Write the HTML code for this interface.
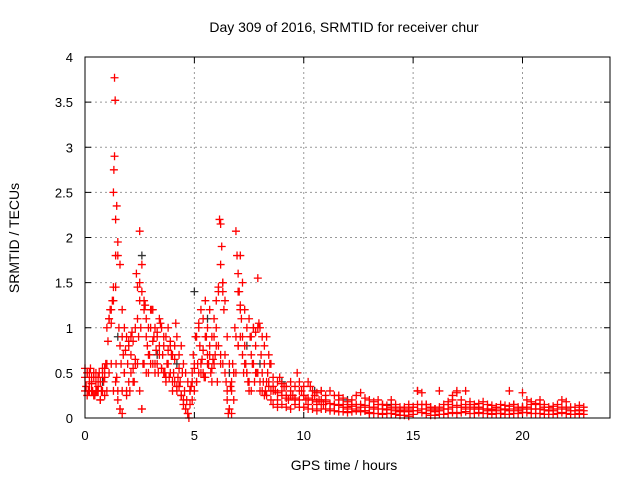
<!DOCTYPE html>
<html><head><meta charset="utf-8"><style>
body{margin:0;background:#fff;}
svg{display:block;font-family:"Liberation Sans",sans-serif;}
</style></head><body>
<svg id="chart" width="640" height="480" xmlns="http://www.w3.org/2000/svg">
<rect width="640" height="480" fill="#fff"/>
<text x="344" y="32" font-size="14" text-anchor="middle">Day 309 of 2016, SRMTID for receiver chur</text>
<text x="344" y="470" font-size="14" text-anchor="middle">GPS time / hours</text>
<text transform="translate(19,238) rotate(-90)" font-size="14" text-anchor="middle">SRMTID / TECUs</text>
<g id="grid"></g>
<g id="axes"></g>
<g id="marks-black"></g>
<g id="marks-red"></g>
<rect x="85" y="57" width="525" height="361" fill="none" stroke="#000" stroke-width="1"/>
</svg>
<script>
const xTicks=[0,5,10,15,20];
const yTicks=[0,0.5,1,1.5,2,2.5,3,3.5,4];
const yTickLabels=["0","0.5","1","1.5","2","2.5","3","3.5","4"];
const redX=[0,0.05,0.1,0.15,0.2,0.25,0.3,0.35,0.4,0.45,0.5,0.55,0.6,0.65,0.7,0.75,0.8,0.85,0.9,0.95,1.0,1.05,1.1,1.15,1.2,1.25,1.3,1.3,1.32,1.35,1.35,1.38,1.4,1.4,1.42,1.45,1.45,1.5,1.5,1.55,1.6,1.6,1.65,1.7,1.7,1.75,1.8,1.85,1.9,1.95,2.0,2.05,2.1,2.15,2.2,2.25,2.3,2.35,2.4,2.45,2.5,2.5,2.55,2.6,2.6,2.65,2.7,2.75,2.8,2.85,2.9,2.95,3.0,3.05,3.1,3.15,3.2,3.25,3.3,3.35,3.4,3.45,3.5,3.55,3.6,3.65,3.7,3.75,3.8,3.85,3.9,3.95,4.0,4.05,4.1,4.15,4.2,4.25,4.3,4.35,4.4,4.45,4.5,4.55,4.6,4.65,4.7,4.75,4.8,4.85,4.9,4.95,5.0,5.05,5.1,5.15,5.2,5.25,5.3,5.35,5.4,5.45,5.5,5.55,5.6,5.65,5.7,5.75,5.8,5.85,5.9,5.95,6.0,6.05,6.1,6.15,6.2,6.2,6.25,6.3,6.3,6.35,6.4,6.45,6.5,6.55,6.6,6.65,6.7,6.75,6.8,6.85,6.9,6.95,7.0,7.0,7.05,7.1,7.1,7.15,7.2,7.25,7.3,7.35,7.4,7.45,7.5,7.55,7.6,7.65,7.7,7.75,7.8,7.85,7.9,7.95,8.0,8.05,8.1,8.15,8.2,8.25,8.3,8.35,8.4,8.45,8.5,8.6,8.7,8.8,8.9,9.0,9.1,9.2,9.3,9.4,9.5,9.6,9.7,9.8,9.9,10.0,10.1,10.2,10.3,10.4,10.5,10.6,10.7,10.8,10.9,11.0,11.2,11.4,11.6,11.8,12.0,12.2,12.4,12.6,12.8,13.0,13.2,13.4,13.6,13.8,14.0,14.2,14.4,14.6,14.8,15.0,15.2,15.4,15.6,15.8,16.0,16.2,16.4,16.6,16.8,17.0,17.2,17.4,17.6,17.8,18.0,18.2,18.4,18.6,18.8,19.0,19.2,19.4,19.6,19.8,20.0,20.2,20.4,20.6,20.8,21.0,21.2,21.4,21.6,21.8,22.0,22.2,22.4,22.6,22.8];
const redY=[0.45,0.35,0.5,0.3,0.4,0.55,0.38,0.3,0.45,0.25,0.4,0.3,0.35,0.5,0.2,0.3,0.55,0.4,0.45,0.6,1.0,0.85,1.1,1.2,1.05,1.3,2.5,1.45,2.75,3.77,2.9,3.52,2.2,1.8,0.6,2.35,0.45,1.95,0.3,1.0,0.1,0.8,0.6,0.05,0.9,0.7,0.5,0.75,0.25,0.6,0.85,0.3,0.7,0.95,0.55,0.4,0.65,1.6,1.45,0.9,2.07,1.3,1.0,1.7,0.1,0.6,1.3,1.25,0.9,0.8,0.5,0.7,1.0,1.2,0.85,0.9,0.6,0.75,0.95,0.5,0.8,1.05,0.55,0.7,0.9,0.5,0.4,0.6,0.75,0.45,0.85,0.7,0.3,0.5,0.65,1.05,0.35,0.45,0.55,0.4,0.25,0.5,0.15,0.3,0.1,0.2,0.05,0.0,0.3,0.35,0.5,0.7,0.55,0.9,0.4,0.6,1.05,0.8,0.5,0.65,0.75,0.45,1.3,0.9,0.7,0.6,0.8,0.5,0.4,0.65,0.9,0.7,1.0,0.4,1.45,2.2,0.6,2.15,1.9,1.5,1.4,1.2,0.7,0.4,0.2,0.05,0.1,0.35,0.3,0.6,0.5,1.0,2.07,1.8,0.8,1.6,1.4,1.25,1.2,1.1,0.9,0.5,0.8,0.6,0.5,0.4,0.3,0.9,0.7,0.6,1.0,0.4,0.8,0.5,1.55,1.05,0.3,0.7,0.5,0.4,0.6,0.3,0.25,0.5,0.4,0.6,0.2,0.35,0.3,0.2,0.45,0.3,0.35,0.25,0.2,0.3,0.25,0.2,0.5,0.4,0.3,0.25,0.2,0.15,0.35,0.2,0.25,0.15,0.2,0.3,0.15,0.2,0.1,0.15,0.25,0.12,0.1,0.15,0.1,0.12,0.08,0.05,0.1,0.2,0.15,0.1,0.05,0.08,0.07,0.1,0.15,0.12,0.3,0.1,0.15,0.12,0.1,0.3,0.1,0.15,0.2,0.3,0.12,0.1,0.15,0.1,0.12,0.1,0.08,0.1,0.12,0.05,0.1,0.3,0.15,0.1,0.12,0.1,0.15,0.1,0.2,0.12,0.08,0.1];
const earlyT=[0.0,0.1,0.2,0.3,0.4,0.5,0.6,0.7,0.8,0.9,1.0,1.1,1.2,1.3,1.4,1.5,1.6,1.7,1.8,1.9,2.0,2.1,2.2,2.3,2.4,2.5,2.6,2.7,2.8,2.9,3.0,3.1,3.2,3.3,3.4,3.5,3.6,3.7,3.8,3.9,4.0,4.1,4.2,4.3,4.4,4.5,4.6,4.7,4.8,4.9,5.0,5.1,5.2,5.3,5.4,5.5,5.6,5.7,5.8,5.9,6.0,6.1,6.2,6.3,6.4,6.5,6.6,6.7,6.8,6.9,7.0,7.1,7.2,7.3,7.4,7.5,7.6,7.7,7.8,7.9,8.0,8.1,8.2,8.3,8.4,8.5];
const earlyHi=[0.55,0.5,0.5,0.45,0.5,0.5,0.45,0.4,0.5,0.55,0.6,1.1,1.2,1.3,1.45,1.8,1.7,1.2,1.0,0.9,0.8,0.9,0.85,1.0,1.1,1.5,1.4,1.2,1.1,1.0,1.2,1.2,1.0,0.9,1.1,1.0,0.8,0.9,1.0,0.8,0.7,0.8,0.9,0.7,0.8,0.6,0.5,0.4,0.3,0.4,0.6,0.9,1.0,1.2,1.1,0.9,1.0,1.2,0.9,1.1,1.3,1.4,1.7,1.5,1.3,0.9,0.6,0.4,0.5,0.9,1.4,1.8,1.5,1.2,1.0,1.1,0.9,1.0,0.95,1.0,1.0,0.9,0.8,0.9,0.7,0.6];
const earlyLo=[0.3,0.25,0.3,0.3,0.25,0.3,0.3,0.2,0.3,0.25,0.3,0.5,0.6,0.3,0.4,0.2,0.1,0.3,0.5,0.3,0.4,0.5,0.4,0.6,0.6,0.3,0.1,0.6,0.5,0.7,0.6,0.6,0.5,0.6,0.7,0.55,0.5,0.45,0.6,0.5,0.4,0.4,0.3,0.35,0.25,0.2,0.1,0.05,0.15,0.2,0.3,0.4,0.5,0.6,0.5,0.45,0.6,0.7,0.55,0.6,0.8,0.8,0.7,0.6,0.5,0.3,0.1,0.05,0.2,0.5,0.8,0.9,0.7,0.6,0.5,0.4,0.3,0.6,0.5,0.5,0.4,0.3,0.25,0.4,0.35,0.3];
const bandT=[8.6,8.8,9.0,9.2,9.4,9.6,9.8,10.0,10.2,10.4,10.6,10.8,11.0,11.2,11.4,11.6,11.8,12.0,12.2,12.4,12.6,12.8,13.0,13.2,13.4,13.6,13.8,14.0,14.2,14.4,14.6,14.8,15.0,15.2,15.4,15.6,15.8,16.0,16.2,16.4,16.6,16.8,17.0,17.2,17.4,17.6,17.8,18.0,18.2,18.4,18.6,18.8,19.0,19.2,19.4,19.6,19.8,20.0,20.2,20.4,20.6,20.8,21.0,21.2,21.4,21.6,21.8,22.0,22.2,22.4,22.6,22.8];
const bandHi=[0.45,0.4,0.38,0.35,0.4,0.35,0.3,0.35,0.4,0.3,0.28,0.3,0.25,0.3,0.25,0.2,0.22,0.18,0.2,0.25,0.28,0.22,0.2,0.18,0.15,0.15,0.14,0.2,0.15,0.12,0.12,0.1,0.12,0.3,0.28,0.15,0.12,0.1,0.12,0.15,0.18,0.25,0.28,0.2,0.3,0.18,0.15,0.16,0.18,0.15,0.14,0.12,0.15,0.14,0.13,0.15,0.12,0.28,0.2,0.18,0.16,0.15,0.15,0.12,0.13,0.15,0.2,0.18,0.12,0.12,0.14,0.12];
const bandMid=[0.3,0.28,0.25,0.22,0.25,0.22,0.2,0.25,0.22,0.2,0.18,0.2,0.18,0.16,0.15,0.14,0.15,0.12,0.13,0.15,0.15,0.14,0.12,0.12,0.1,0.1,0.09,0.12,0.1,0.08,0.08,0.07,0.08,0.15,0.15,0.1,0.08,0.07,0.08,0.1,0.1,0.12,0.14,0.12,0.15,0.12,0.1,0.1,0.1,0.1,0.09,0.08,0.1,0.09,0.08,0.1,0.08,0.12,0.12,0.1,0.1,0.1,0.09,0.08,0.08,0.1,0.12,0.1,0.08,0.08,0.09,0.08];
const bandLo=[0.15,0.12,0.15,0.12,0.1,0.15,0.12,0.12,0.1,0.1,0.08,0.1,0.1,0.08,0.08,0.07,0.07,0.06,0.07,0.08,0.07,0.08,0.06,0.05,0.05,0.04,0.05,0.05,0.04,0.03,0.03,0.02,0.04,0.08,0.06,0.05,0.03,0.03,0.04,0.04,0.05,0.06,0.05,0.06,0.07,0.05,0.05,0.06,0.05,0.05,0.04,0.05,0.05,0.04,0.04,0.05,0.05,0.06,0.06,0.05,0.05,0.05,0.04,0.04,0.04,0.05,0.06,0.05,0.04,0.04,0.05,0.04];
const blackX=[0.2,0.8,1.5,2.6,3.3,4.2,5.0,5.6,6.6,7.4,8.0,9.0,10.5,12.0,14.0,16.0,18.0,20.0,22.0];
const blackY=[0.3,0.4,0.9,1.8,0.7,0.6,1.4,1.1,0.5,0.8,0.6,0.4,0.3,0.2,0.15,0.1,0.12,0.1,0.1];
const X0=85,X1=610,XMAX=24,Y0=418,Y1=57,YMAX=4;
const sx=v=>X0+(X1-X0)*v/XMAX;
const sy=v=>Y0-(Y0-Y1)*v/YMAX;
const NS="http://www.w3.org/2000/svg";
function mk(t,a,p){const e=document.createElementNS(NS,t);for(const k in a)e.setAttribute(k,a[k]);p.appendChild(e);return e;}
const grid=document.getElementById('grid'),axes=document.getElementById('axes');
xTicks.forEach(v=>{
 const x=sx(v);
 if(v>0){const l=mk('line',{x1:x,x2:x,y1:Y1,y2:Y0,stroke:'#999','stroke-dasharray':'2,3'},grid);
 
 }
 mk('line',{x1:x,x2:x,y1:Y0,y2:Y0-6,stroke:'#000'},axes);
 mk('line',{x1:x,x2:x,y1:Y1,y2:Y1+6,stroke:'#000'},axes);
 const t=mk('text',{x:x,y:Y0+22,'font-size':13,'text-anchor':'middle'},axes);t.textContent=v;
 
 
});
yTicks.forEach((v,i)=>{
 const y=sy(v);
 if(v>0&&v<YMAX){const l=mk('line',{x1:X0,x2:X1,y1:y,y2:y,stroke:'#999','stroke-dasharray':'2,3'},grid);
 
 }
 mk('line',{x1:X0,x2:X0+6,y1:y,y2:y,stroke:'#000'},axes);
 mk('line',{x1:X1,x2:X1-6,y1:y,y2:y,stroke:'#000'},axes);
 const t=mk('text',{x:X0-12,y:y+5,'font-size':13,'text-anchor':'end'},axes);t.textContent=yTickLabels[i];
 
 
});
function plus(g,xs,ys,col,name){
 xs.forEach((xv,i)=>{
  const x=sx(xv),y=sy(ys[i]);
  const p=mk('path',{d:`M${x-4},${y}H${x+4}M${x},${y-4}V${y+4}`,stroke:col,'stroke-width':1.3,fill:'none'},g);
  
  
 });
}
const red=document.getElementById('marks-red');
plus(document.getElementById('marks-black'),blackX,blackY,'#333','black-point');
plus(red,redX,redY,'#f00','red-point');
plus(red,earlyT,earlyHi,'#f00','red-point');
plus(red,earlyT,earlyLo,'#f00','red-point');
plus(red,bandT,bandHi,'#f00','red-point');
plus(red,bandT,bandMid,'#f00','red-point');
plus(red,bandT,bandLo,'#f00','red-point');
</script>
</body></html>
